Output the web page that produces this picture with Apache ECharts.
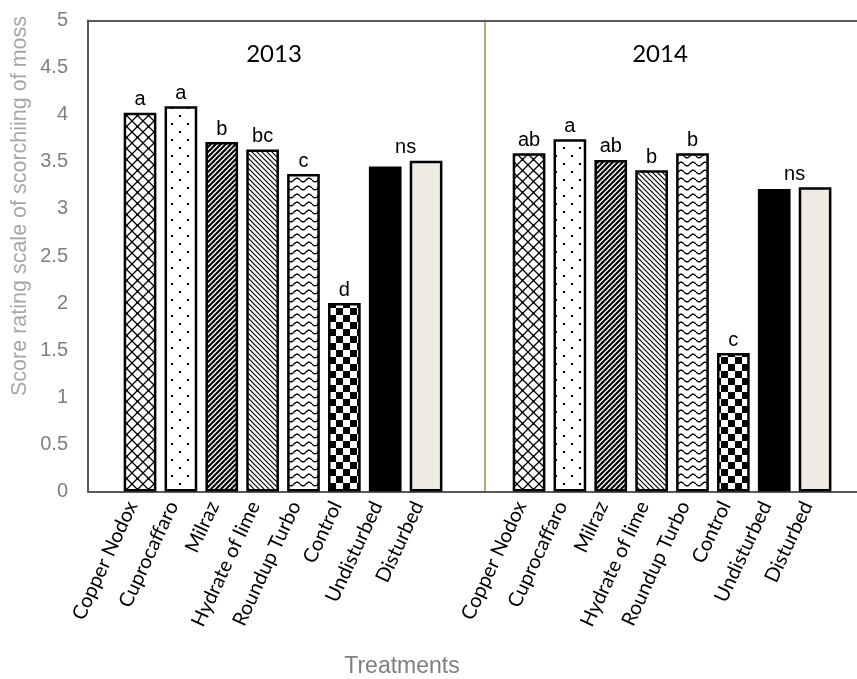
<!DOCTYPE html>
<html>
<head>
<meta charset="utf-8">
<script src="https://cdn.jsdelivr.net/npm/echarts@6/dist/echarts.min.js"></script>
<style>
  html, body { margin: 0; padding: 0; background: #fff; }
  #chart { width: 857px; height: 679px; }
</style>
</head>
<body>
<div id="chart"></div>
<script>
// Treatments and mean scorching scores per year
const treatments = ['Copper Nodox', 'Cuprocaffaro', 'Milraz', 'Hydrate of lime', 'Roundup Turbo', 'Control', 'Undisturbed', 'Disturbed'];
const years = ['2013', '2014'];
const scores2013 = [4.02, 4.09, 3.71, 3.63, 3.37, 2.00, 3.45, 3.51];
const scores2014 = [3.59, 3.74, 3.52, 3.41, 3.59, 1.47, 3.21, 3.23];
// Significance letters (the "ns" sits between Undisturbed and Disturbed)
const letters2013 = ['a', 'a', 'b', 'bc', 'c', 'd', '', 'ns'];
const letters2014 = ['ab', 'a', 'ab', 'b', 'b', 'c', '', 'ns'];
const yMin = 0, yMax = 5, yStep = 0.5;

// ---- fill patterns drawn on small tiles ----
function tile(w, h, draw) {
  const c = document.createElement('canvas');
  c.width = w; c.height = h;
  const g = c.getContext('2d');
  g.fillStyle = '#fff'; g.fillRect(0, 0, w, h);
  g.strokeStyle = '#000'; g.fillStyle = '#000';
  draw(g, w, h);
  return c;
}
function diag(g, s, lw, up) {
  g.lineWidth = lw;
  g.beginPath();
  for (let k = -1; k <= 1; k++) {
    if (up) { g.moveTo(k * s - 1, s + 1); g.lineTo(k * s + s + 1, -1); }
    else { g.moveTo(k * s - 1, -1); g.lineTo(k * s + s + 1, s + 1); }
  }
  g.stroke();
}
const patterns = [
  // diamond lattice
  tile(11, 11, (g, w) => {
    diag(g, w, 1.3, true); diag(g, w, 1.3, false);
    g.fillRect(w / 2 - 1, w / 2 - 1, 2, 2);
    g.fillRect(-1, -1, 2, 2); g.fillRect(w - 1, -1, 2, 2);
    g.fillRect(-1, w - 1, 2, 2); g.fillRect(w - 1, w - 1, 2, 2);
  }),
  // sparse dots
  tile(16, 16, g => { g.fillRect(3, 3, 2, 2); g.fillRect(11, 11, 2, 2); }),
  // bold upward diagonal
  tile(5, 5, (g, w) => diag(g, w, 2.2, true)),
  // light downward diagonal
  tile(5, 5, (g, w) => diag(g, w, 1.2, false)),
  // wave
  tile(12, 8, (g, w, h) => {
    g.lineWidth = 1.4; g.beginPath();
    for (let x = 0; x <= w; x += 0.5) {
      const y = h / 2 + 1.8 * Math.sin(2 * Math.PI * x / w);
      if (x === 0) g.moveTo(x, y); else g.lineTo(x, y);
    }
    g.stroke();
  }),
  // large checkerboard
  tile(14, 14, g => { g.fillRect(0, 0, 7, 7); g.fillRect(7, 7, 7, 7); })
];
const fills = patterns.map(c => ({ image: c, repeat: 'repeat' })).concat(['#000000', '#eeebe3']);

// ---- layout ----
const plotTop = 20.5, plotBottom = 491.5, plotLeft = 88, divider = 485;
const plotH = plotBottom - plotTop;
const barGrids = [{ left: 119.6, width: 326.9 }, { left: 508.6, width: 326.9 }];
const labelShift = 8;   // rotated category labels sit a little left of their bars

function barSeries(values, letters, gi) {
  const slot = barGrids[gi].width / treatments.length;
  return {
    type: 'bar',
    xAxisIndex: 4 + gi,
    yAxisIndex: 3 + gi,
    barWidth: '80%',
    silent: true,
    data: values.map((v, i) => ({
      value: v,
      itemStyle: { color: fills[i], borderColor: '#000', borderWidth: 2.5 },
      label: letters[i] === 'ns' ? { offset: [-slot / 2, 0] } : {}
    })),
    label: {
      show: true, position: 'top', distance: 3,
      fontFamily: 'Liberation Sans', fontSize: 20, color: '#000',
      formatter: p => letters[p.dataIndex]
    }
  };
}

const frameLine = c => ({ show: true, onZero: false, lineStyle: { color: c, width: 2 } });
const bare = { axisTick: { show: false }, axisLabel: { show: false }, splitLine: { show: false } };
const hiddenCat = { type: 'category', data: treatments, axisLine: { show: false }, axisTick: { show: false }, axisLabel: { show: false } };
const shownCat = { type: 'category', data: treatments, axisLine: { show: false }, axisTick: { show: false },
  axisLabel: { interval: 0, rotate: 65, margin: 11, fontFamily: 'Lato', fontSize: 20, color: '#000' } };

const chart = echarts.init(document.getElementById('chart'), null, { renderer: 'canvas' });
chart.setOption({
  backgroundColor: '#fff',
  animation: false,
  grid: [
    { left: plotLeft, top: plotTop, width: divider - plotLeft, height: plotH },
    { left: divider, top: plotTop, right: 0, height: plotH },
    { left: barGrids[0].left, width: barGrids[0].width, top: plotTop, height: plotH },
    { left: barGrids[1].left, width: barGrids[1].width, top: plotTop, height: plotH },
    { left: barGrids[0].left - labelShift, width: barGrids[0].width, top: plotTop, height: plotH },
    { left: barGrids[1].left - labelShift, width: barGrids[1].width, top: plotTop, height: plotH }
  ],
  graphic: [
    { type: 'text', x: 274, y: 54, silent: true,
      style: { text: years[0], fontFamily: 'Lato', fontSize: 24, fill: '#000', textAlign: 'center', textVerticalAlign: 'middle' } },
    { type: 'text', x: 660, y: 54, silent: true,
      style: { text: years[1], fontFamily: 'Lato', fontSize: 24, fill: '#000', textAlign: 'center', textVerticalAlign: 'middle' } },
    { type: 'text', x: 402, y: 667, silent: true,
      style: { text: 'Treatments', fontFamily: 'Liberation Sans', fontSize: 23, fill: '#7f7f7f', textAlign: 'center', textVerticalAlign: 'middle' } },
    { type: 'text', x: 20, y: 206, rotation: Math.PI / 2, silent: true,
      style: { text: 'Score rating scale of scorchiing of moss', fontFamily: 'Liberation Sans', fontSize: 21.5,
        fill: '#a6a6a6', textAlign: 'center', textVerticalAlign: 'middle' } }
  ],
  xAxis: [
    { gridIndex: 0, type: 'value', min: 0, max: 1, position: 'bottom', axisLine: frameLine('#595959'), ...bare },
    { gridIndex: 0, type: 'value', min: 0, max: 1, position: 'top', axisLine: frameLine('#595959'), ...bare },
    { gridIndex: 1, type: 'value', min: 0, max: 1, position: 'bottom', axisLine: frameLine('#595959'), ...bare },
    { gridIndex: 1, type: 'value', min: 0, max: 1, position: 'top', axisLine: frameLine('#595959'), ...bare },
    { gridIndex: 2, ...hiddenCat },
    { gridIndex: 3, ...hiddenCat },
    { gridIndex: 4, ...shownCat },
    { gridIndex: 5, ...shownCat }
  ],
  yAxis: [
    { gridIndex: 0, type: 'value', min: yMin, max: yMax, interval: yStep, position: 'left',
      axisLine: frameLine('#595959'), axisTick: { show: false }, splitLine: { show: false },
      axisLabel: { margin: 20, fontFamily: 'Liberation Sans', fontSize: 20, color: '#7f7f7f' } },
    { gridIndex: 0, type: 'value', min: yMin, max: yMax, position: 'right', axisLine: frameLine('#b3ab7c'), ...bare },
    { gridIndex: 1, type: 'value', min: yMin, max: yMax, axisLine: { show: false }, ...bare },
    { gridIndex: 2, type: 'value', min: yMin, max: yMax, show: false },
    { gridIndex: 3, type: 'value', min: yMin, max: yMax, show: false },
    { gridIndex: 4, type: 'value', min: yMin, max: yMax, show: false },
    { gridIndex: 5, type: 'value', min: yMin, max: yMax, show: false }
  ],
  series: [
    barSeries(scores2013, letters2013, 0),
    barSeries(scores2014, letters2014, 1)
  ]
});
</script>
</body>
</html>
